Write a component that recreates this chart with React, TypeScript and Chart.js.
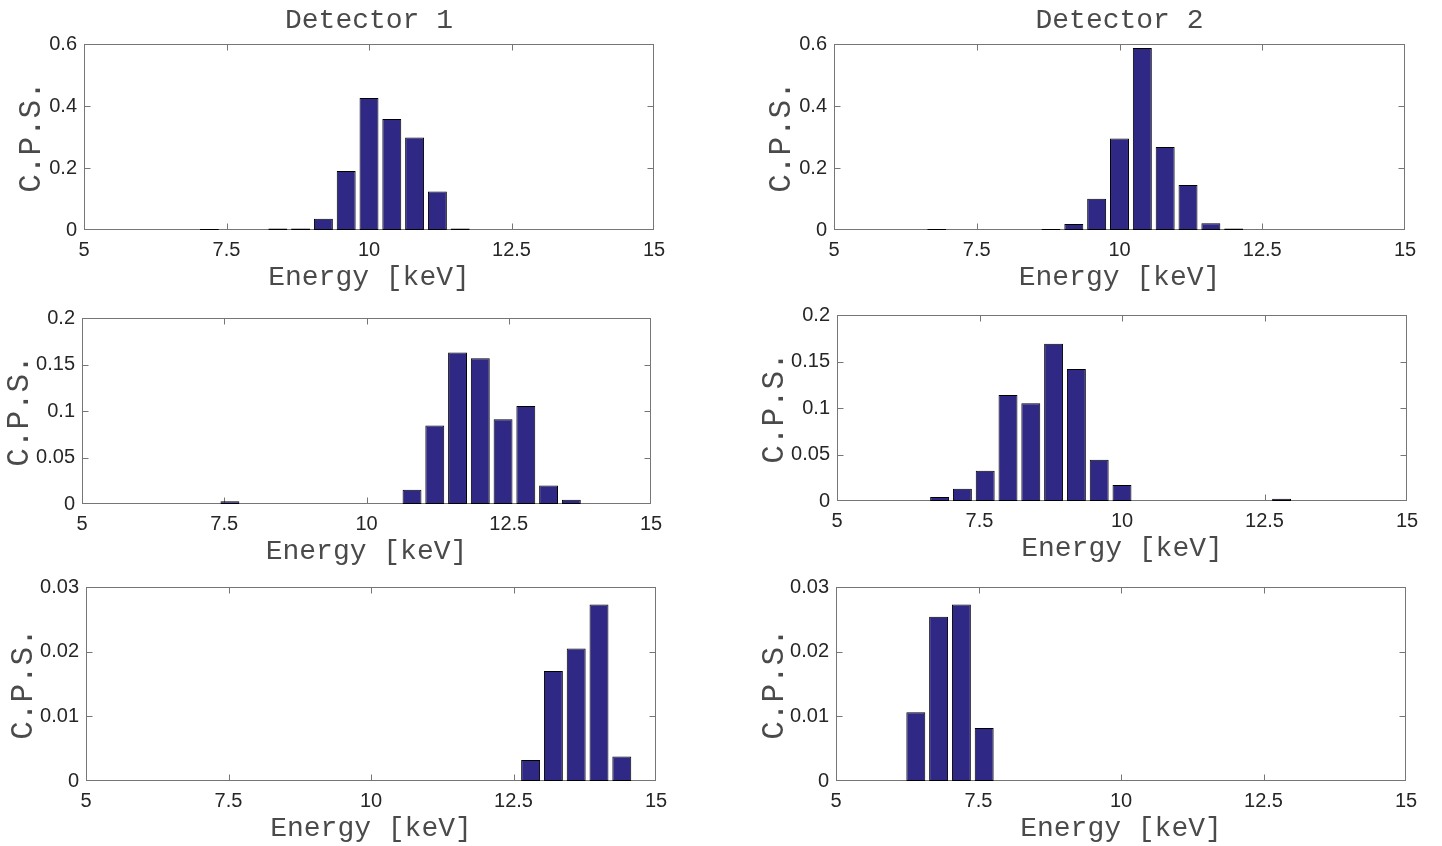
import React, { useEffect, useRef } from 'react';
import { Chart, registerables } from 'chart.js';

Chart.register(...registerables);

// ---------- data ----------
const ENERGY_TICKS = [5, 7.5, 10, 12.5, 15];
const ENERGY_TICK_LABELS = ['5', '7.5', '10', '12.5', '15'];

const CPS_TICKS_ROW1 = [0, 0.2, 0.4, 0.6];
const CPS_LABELS_ROW1 = ['0', '0.2', '0.4', '0.6'];
const CPS_TICKS_ROW2 = [0, 0.05, 0.1, 0.15, 0.2];
const CPS_LABELS_ROW2 = ['0', '0.05', '0.1', '0.15', '0.2'];
const CPS_TICKS_ROW3 = [0, 0.01, 0.02, 0.03];
const CPS_LABELS_ROW3 = ['0', '0.01', '0.02', '0.03'];

const DET1_ROW1_ENERGY = [7.2, 8.4, 8.8, 9.2, 9.6, 10.0, 10.4, 10.8, 11.2, 11.6];
const DET1_ROW1_CPS = [0.003, 0.005, 0.005, 0.036, 0.19, 0.426, 0.358, 0.298, 0.124, 0.005];

const DET2_ROW1_ENERGY = [6.8, 8.8, 9.2, 9.6, 10.0, 10.4, 10.8, 11.2, 11.6, 12.0];
const DET2_ROW1_CPS = [0.003, 0.003, 0.019, 0.101, 0.295, 0.587, 0.268, 0.145, 0.022, 0.005];

const DET1_ROW2_ENERGY = [7.6, 10.8, 11.2, 11.6, 12.0, 12.4, 12.8, 13.2, 13.6];
const DET1_ROW2_CPS = [0.003, 0.0153, 0.0843, 0.163, 0.1566, 0.091, 0.1053, 0.02, 0.0046];

const DET2_ROW2_ENERGY = [6.8, 7.2, 7.6, 8.0, 8.4, 8.8, 9.2, 9.6, 10.0, 12.8];
const DET2_ROW2_CPS = [0.0043, 0.0132, 0.0325, 0.114, 0.105, 0.169, 0.142, 0.0443, 0.0171, 0.0025];

const DET1_ROW3_ENERGY = [12.8, 13.2, 13.6, 14.0, 14.4];
const DET1_ROW3_CPS = [0.00324, 0.017, 0.0205, 0.0273, 0.0038];

const DET2_ROW3_ENERGY = [6.4, 6.8, 7.2, 7.6];
const DET2_ROW3_CPS = [0.01063, 0.0254, 0.0273, 0.0082];

const TITLES = ['Detector 1', 'Detector 2'];
const X_TITLE = 'Energy [keV]';
const Y_TITLE = 'C.P.S.';

// ---------- styles ----------
const BAR_COLOR = 'rgb(47,40,133)';
const BAR_EDGE = '#000000';
const BOX_COLOR = '#767676';
const TICK_TEXT = '#262626';
const LABEL_TEXT = '#4a4a4a';
const MONO = '"Liberation Mono", "Courier New", monospace';
const SANS = '"Liberation Sans", Arial, sans-serif';
const MONO_SIZE = 28;
const Y_TITLE_SIZE = 31;
const TICK_SIZE = 20;
const Y_AXIS_W = 82;
const X_AXIS_H = 70;
const TICK_LEN = 6;

type PanelSpec = {
  energy: number[];
  cps: number[];
  yTicks: number[];
  yLabels: string[];
  title?: string;
  left: number;
  top: number;
  width: number;
  height: number;
  padTop: number;
  padRight: number;
  yTitlePad: number;
};

const boxPlugin = {
  id: 'matlabBox',
  beforeDatasetsDraw(chart: any) {
    const { ctx, chartArea: a, scales } = chart;
    const l = Math.round(a.left) + 0.5;
    const t = Math.round(a.top) + 0.5;
    const r = Math.round(a.right) - 0.5;
    const b = Math.round(a.bottom) - 0.5;
    ctx.save();
    ctx.strokeStyle = BOX_COLOR;
    ctx.lineWidth = 1;
    ctx.strokeRect(l, t, r - l, b - t);
    ctx.beginPath();
    const xs = scales.x;
    xs.ticks.forEach((tk: any) => {
      const px = Math.round(xs.getPixelForValue(tk.value)) + 0.5;
      if (px <= l + 1 || px >= r - 1) return;
      ctx.moveTo(px, b);
      ctx.lineTo(px, b - TICK_LEN);
      ctx.moveTo(px, t);
      ctx.lineTo(px, t + TICK_LEN);
    });
    const ys = scales.y;
    ys.ticks.forEach((tk: any) => {
      const py = Math.round(ys.getPixelForValue(tk.value)) + 0.5;
      if (py <= t + 1 || py >= b - 1) return;
      ctx.moveTo(l, py);
      ctx.lineTo(l + TICK_LEN, py);
      ctx.moveTo(r, py);
      ctx.lineTo(r - TICK_LEN, py);
    });
    ctx.stroke();
    ctx.restore();
  },
};

function makeConfig(spec: PanelSpec): any {
  const yMax = spec.yTicks[spec.yTicks.length - 1];
  return {
    type: 'bar',
    data: {
      datasets: [
        {
          data: spec.energy.map((e, i) => ({ x: e, y: spec.cps[i] })),
          backgroundColor: BAR_COLOR,
          borderColor: BAR_EDGE,
          borderWidth: 1,
          borderSkipped: false,
          barPercentage: 1,
          categoryPercentage: 0.83,
        },
      ],
    },
    plugins: [boxPlugin],
    options: {
      responsive: false,
      animation: false,
      devicePixelRatio: 1,
      events: [],
      layout: { padding: { top: spec.padTop, right: spec.padRight, bottom: 0, left: 0 } },
      plugins: {
        legend: { display: false },
        tooltip: { enabled: false },
        title: spec.title
          ? {
              display: true,
              text: spec.title,
              fullSize: false,
              color: LABEL_TEXT,
              font: { family: MONO, size: MONO_SIZE, weight: 'normal', lineHeight: 1.2 },
              padding: { top: 4, bottom: 44 - 4 - MONO_SIZE * 1.2 },
            }
          : { display: false },
      },
      scales: {
        x: {
          type: 'linear',
          min: 5,
          max: 15,
          offset: false,
          grid: { display: false, drawTicks: false, offset: false },
          border: { display: false },
          afterBuildTicks: (s: any) => {
            s.ticks = ENERGY_TICKS.map((v) => ({ value: v }));
          },
          afterFit: (s: any) => {
            s.height = X_AXIS_H;
          },
          ticks: {
            autoSkip: false,
            maxRotation: 0,
            minRotation: 0,
            padding: 8,
            color: TICK_TEXT,
            font: { family: SANS, size: TICK_SIZE },
            callback: (_v: any, i: number) => ENERGY_TICK_LABELS[i],
          },
          title: {
            display: true,
            text: X_TITLE,
            color: LABEL_TEXT,
            font: { family: MONO, size: MONO_SIZE, lineHeight: 1.2 },
            padding: { top: 0, bottom: 5.2 },
          },
        },
        y: {
          type: 'linear',
          min: 0,
          max: yMax,
          grid: { display: false, drawTicks: false },
          border: { display: false },
          afterBuildTicks: (s: any) => {
            s.ticks = spec.yTicks.map((v) => ({ value: v }));
          },
          afterFit: (s: any) => {
            s.width = Y_AXIS_W;
          },
          ticks: {
            autoSkip: false,
            padding: 7,
            color: TICK_TEXT,
            font: { family: SANS, size: TICK_SIZE },
            callback: (_v: any, i: number) => spec.yLabels[i],
          },
          title: {
            display: true,
            text: Y_TITLE,
            color: LABEL_TEXT,
            font: { family: MONO, size: Y_TITLE_SIZE, lineHeight: 1.2 },
            padding: { top: spec.yTitlePad, bottom: 0 },
          },
        },
      },
    },
  };
}

// plot-box placement: [boxLeft, boxTop, boxRight, boxBottom]
function panel(
  box: [number, number, number, number],
  canvasRight: number,
  hasTitle: boolean,
  yLabelDist: number
) {
  const [bl, bt, br, bb] = box;
  const left = bl - Y_AXIS_W;
  const top = hasTitle ? 0 : bt - 20;
  const padTop = hasTitle ? 0 : 20;
  return {
    left,
    top,
    width: canvasRight - left,
    height: bb + X_AXIS_H - top,
    padTop,
    padRight: canvasRight - br,
    yTitlePad: Math.max(0, Y_AXIS_W - yLabelDist - (Y_TITLE_SIZE * 1.2) / 2),
  };
}

const PANELS: PanelSpec[] = [
  {
    energy: DET1_ROW1_ENERGY, cps: DET1_ROW1_CPS, yTicks: CPS_TICKS_ROW1, yLabels: CPS_LABELS_ROW1,
    title: TITLES[0], ...panel([84, 44, 654, 230], 700, true, 52),
  },
  {
    energy: DET2_ROW1_ENERGY, cps: DET2_ROW1_CPS, yTicks: CPS_TICKS_ROW1, yLabels: CPS_LABELS_ROW1,
    title: TITLES[1], ...panel([834, 44, 1405, 230], 1442, true, 52),
  },
  {
    energy: DET1_ROW2_ENERGY, cps: DET1_ROW2_CPS, yTicks: CPS_TICKS_ROW2, yLabels: CPS_LABELS_ROW2,
    ...panel([82, 318, 651, 504], 700, false, 62),
  },
  {
    energy: DET2_ROW2_ENERGY, cps: DET2_ROW2_CPS, yTicks: CPS_TICKS_ROW2, yLabels: CPS_LABELS_ROW2,
    ...panel([837, 315, 1407, 501], 1442, false, 62),
  },
  {
    energy: DET1_ROW3_ENERGY, cps: DET1_ROW3_CPS, yTicks: CPS_TICKS_ROW3, yLabels: CPS_LABELS_ROW3,
    ...panel([86, 587, 656, 781], 700, false, 62),
  },
  {
    energy: DET2_ROW3_ENERGY, cps: DET2_ROW3_CPS, yTicks: CPS_TICKS_ROW3, yLabels: CPS_LABELS_ROW3,
    ...panel([836, 587, 1406, 781], 1442, false, 61),
  },
];

function Panel({ spec }: { spec: PanelSpec }) {
  const ref = useRef<HTMLCanvasElement | null>(null);
  useEffect(() => {
    if (!ref.current) return;
    const chart = new Chart(ref.current, makeConfig(spec));
    return () => chart.destroy();
  }, [spec]);
  return (
    <canvas
      ref={ref}
      width={spec.width}
      height={spec.height}
      style={{ position: 'absolute', left: spec.left, top: spec.top, width: spec.width, height: spec.height }}
    />
  );
}

export default function App() {
  useEffect(() => {
    document.body.style.margin = '0';
    document.body.style.overflow = 'hidden';
  }, []);
  return (
    <div style={{ position: 'absolute', left: 0, top: 0, width: 1442, height: 846, background: '#ffffff', overflow: 'hidden' }}>
      {PANELS.map((p, i) => (
        <Panel key={i} spec={p} />
      ))}
    </div>
  );
}
